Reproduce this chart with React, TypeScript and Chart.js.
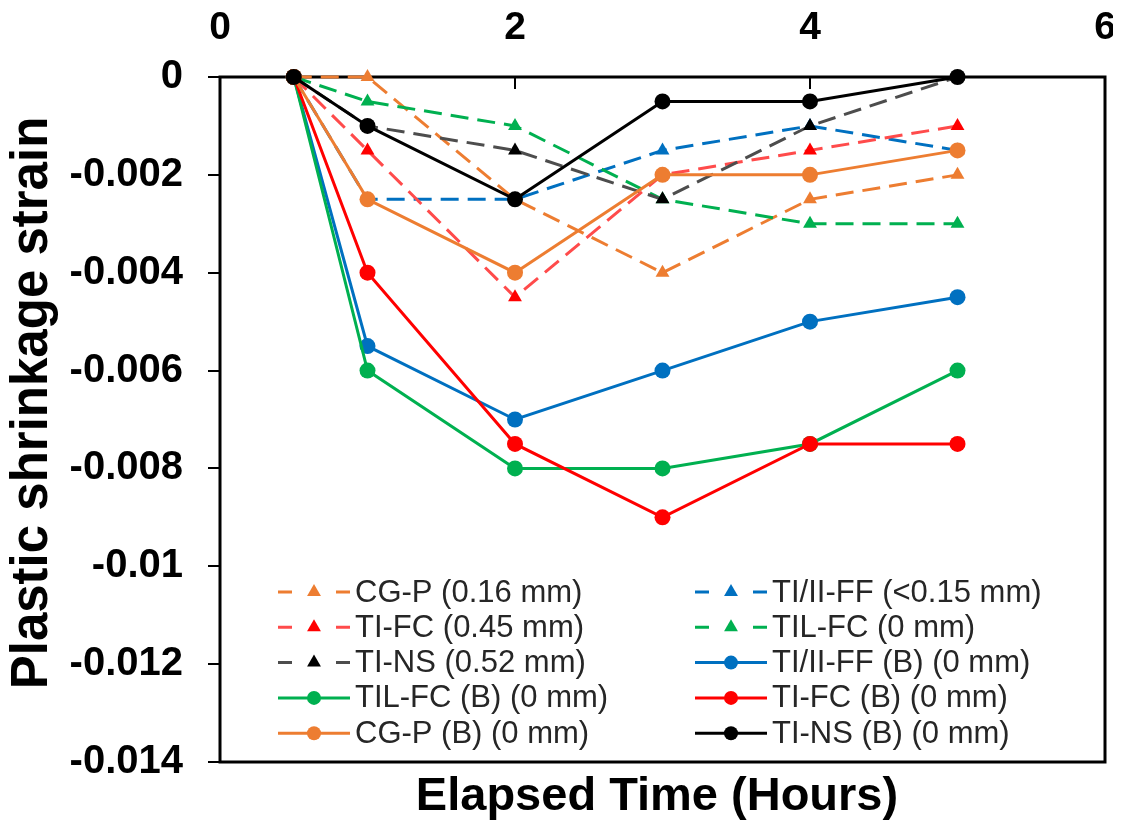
import React, { useEffect, useRef } from 'react';
import { Chart, registerables } from 'chart.js';

Chart.register(...registerables);

// ---- data ----
const hours = [0.5, 1, 2, 3, 4, 5];

const cgP = [0, 0, -0.0025, -0.004, -0.0025, -0.002];
const tiIIFF = [0, -0.0025, -0.0025, -0.0015, -0.001, -0.0015];
const tiFC = [0, -0.0015, -0.0045, -0.002, -0.0015, -0.001];
const tilFC = [0, -0.0005, -0.001, -0.0025, -0.003, -0.003];
const tiNS = [0, -0.001, -0.0015, -0.0025, -0.001, 0];
const tiIIFFB = [0, -0.0055, -0.007, -0.006, -0.005, -0.0045];
const tilFCB = [0, -0.006, -0.008, -0.008, -0.0075, -0.006];
const tiFCB = [0, -0.004, -0.0075, -0.009, -0.0075, -0.0075];
const cgPB = [0, -0.0025, -0.004, -0.002, -0.002, -0.0015];
const tiNSB = [0, -0.001, -0.0025, -0.0005, -0.0005, 0];

const seriesLabels = [
  'CG-P (0.16 mm)',
  'TI/II-FF (<0.15 mm)',
  'TI-FC (0.45 mm)',
  'TIL-FC (0 mm)',
  'TI-NS (0.52 mm)',
  'TI/II-FF (B) (0 mm)',
  'TIL-FC (B) (0 mm)',
  'TI-FC (B) (0 mm)',
  'CG-P (B) (0 mm)',
  'TI-NS (B) (0 mm)',
];
const seriesValues = [cgP, tiIIFF, tiFC, tilFC, tiNS, tiIIFFB, tilFCB, tiFCB, cgPB, tiNSB];
const lineColors = ['#ED7D31', '#0070C0', '#FF4B4B', '#00B050', '#4D4D4D', '#0070C0', '#00B050', '#FF0000', '#ED7D31', '#000000'];
const markerColors = ['#ED7D31', '#0070C0', '#FF0000', '#00B050', '#000000', '#0070C0', '#00B050', '#FF0000', '#ED7D31', '#000000'];
const dashedFlags = [true, true, true, true, true, false, false, false, false, false];

const xTickValues = [0, 2, 4, 6];
const xTickLabels = ['0', '2', '4', '6'];
const yTickValues = [0, -0.002, -0.004, -0.006, -0.008, -0.01, -0.012, -0.014];
const yTickLabels = ['0', '-0.002', '-0.004', '-0.006', '-0.008', '-0.01', '-0.012', '-0.014'];

const xTitle = 'Elapsed Time (Hours)';
const yTitle = 'Plastic shrinkage strain';

const FONT = "'Liberation Sans', Arial, sans-serif";

function drawMarker(ctx: CanvasRenderingContext2D, style: string, x: number, y: number, r: number, color: string) {
  ctx.save();
  ctx.fillStyle = color;
  ctx.setLineDash([]);
  ctx.beginPath();
  if (style === 'circle') {
    ctx.arc(x, y, r, 0, Math.PI * 2);
  } else {
    ctx.moveTo(x, y - r);
    ctx.lineTo(x + r * 0.866, y + r * 0.5);
    ctx.lineTo(x - r * 0.866, y + r * 0.5);
    ctx.closePath();
  }
  ctx.fill();
  ctx.restore();
}

const decorPlugin = {
  id: 'decor',
  beforeDatasetsDraw(chart: any) {
    const { ctx, chartArea: a, scales } = chart;
    ctx.save();
    ctx.strokeStyle = '#000';
    ctx.lineWidth = 3;
    ctx.strokeRect(a.left, a.top, a.right - a.left, a.bottom - a.top);
    ctx.lineWidth = 2;
    xTickValues.forEach((v) => {
      const px = scales.x.getPixelForValue(v);
      ctx.beginPath();
      ctx.moveTo(px, a.top);
      ctx.lineTo(px, a.top + 12);
      ctx.stroke();
    });
    ctx.restore();
  },
  afterDraw(chart: any) {
    const { ctx } = chart;
    ctx.save();
    // axis titles
    ctx.fillStyle = '#000';
    ctx.font = `bold 47px ${FONT}`;
    ctx.textAlign = 'center';
    ctx.textBaseline = 'alphabetic';
    ctx.fillText(xTitle, 649, 802);
    ctx.save();
    ctx.translate(39, 395);
    ctx.rotate(-Math.PI / 2);
    ctx.font = `bold 51px ${FONT}`;
    ctx.fillText(yTitle, 0, 0);
    ctx.restore();

    // legend
    const colX = [270, 687];
    const rowY0 = 584;
    const rowStep = 35.3;
    ctx.font = `31px ${FONT}`;
    ctx.textAlign = 'left';
    ctx.textBaseline = 'middle';
    chart.data.datasets.forEach((ds: any, i: number) => {
      const col = i % 2;
      const row = Math.floor(i / 2);
      const x0 = colX[col];
      const y = rowY0 + row * rowStep;
      ctx.save();
      ctx.strokeStyle = ds.borderColor;
      ctx.lineWidth = 3;
      ctx.setLineDash(dashedFlags[i] ? [14, 44] : []);
      ctx.beginPath();
      ctx.moveTo(x0, y);
      ctx.lineTo(x0 + 72, y);
      ctx.stroke();
      ctx.restore();
      drawMarker(ctx, ds.pointStyle, x0 + 36, y, ds.pointStyle === 'circle' ? 7 : 8, ds.pointBackgroundColor);
      ctx.fillStyle = '#262626';
      ctx.fillText(ds.label, x0 + 77, y + 1);
    });
    ctx.restore();
  },
};

export default function App() {
  const ref = useRef<HTMLCanvasElement>(null);

  useEffect(() => {
    const n = seriesLabels.length;
    const datasets = seriesLabels.map((label, i) => ({
      label,
      data: hours.map((h, j) => ({ x: h, y: seriesValues[i][j] })),
      borderColor: lineColors[i],
      backgroundColor: markerColors[i],
      pointBackgroundColor: markerColors[i],
      pointBorderColor: markerColors[i],
      pointBorderWidth: 0,
      pointStyle: dashedFlags[i] ? 'triangle' : 'circle',
      pointRadius: 8,
      borderWidth: 3,
      borderDash: dashedFlags[i] ? [18, 9] : [],
      tension: 0,
      fill: false,
      clip: false,
      order: n - i,
    }));

    const chart = new Chart(ref.current as HTMLCanvasElement, {
      type: 'line',
      data: { datasets },
      plugins: [decorPlugin],
      options: {
        responsive: false,
        devicePixelRatio: 1,
        animation: false,
        layout: { padding: { left: 0, right: 16, top: 0, bottom: 61 } },
        plugins: { legend: { display: false }, tooltip: { enabled: false } },
        scales: {
          x: {
            type: 'linear',
            position: 'top',
            min: 0,
            max: 6,
            afterBuildTicks: (s: any) => {
              s.ticks = xTickValues.map((v) => ({ value: v }));
            },
            afterFit: (s: any) => {
              s.height = 69;
              s.paddingLeft = 0;
              s.paddingRight = 0;
            },
            ticks: {
              callback: (_v: any, i: number) => xTickLabels[i],
              font: { family: FONT, size: 39, weight: 'bold' },
              color: '#000',
              padding: 0,
              maxRotation: 0,
            },
            grid: { drawOnChartArea: false, drawTicks: true, tickLength: 25, color: 'rgba(0,0,0,0)' },
            border: { display: false },
          },
          y: {
            type: 'linear',
            min: -0.014,
            max: 0,
            afterBuildTicks: (s: any) => {
              s.ticks = yTickValues.map((v) => ({ value: v }));
            },
            afterFit: (s: any) => {
              s.width = 212;
            },
            ticks: {
              callback: (_v: any, i: number) => yTickLabels[i],
              font: { family: FONT, size: 40, weight: 'bold' },
              color: '#000',
              padding: 25,
            },
            grid: { drawOnChartArea: false, drawTicks: true, tickLength: 12, color: '#000', lineWidth: 2 },
            border: { display: false },
          },
        },
      } as any,
    });
    return () => chart.destroy();
  }, []);

  return (
    <canvas
      ref={ref}
      width={1113}
      height={815}
      style={{ display: 'block', width: 1113, height: 815 }}
    />
  );
}
